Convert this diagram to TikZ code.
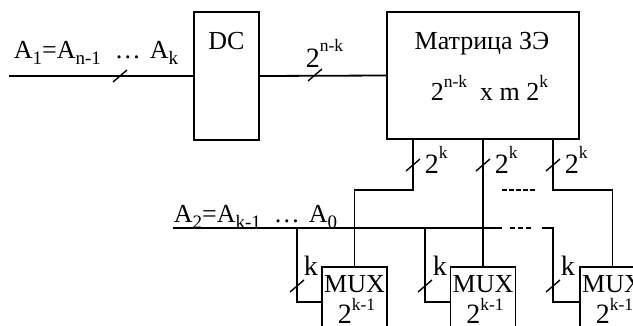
\documentclass[tikz,border=0pt]{standalone}
\usepackage{fontspec}
\setmainfont{Liberation Serif}
\usetikzlibrary{positioning}
\newcommand\hi[2][13pt]{\raisebox{#1}{\fontsize{17.5}{18}\selectfont #2}}
\newcommand\lo[1]{\raisebox{-6pt}{\fontsize{19}{19}\selectfont #1}}
\newcommand\bigtxt{\fontsize{28}{30}\selectfont}
\newcommand\busmark[1]{\draw[line width=1.4pt] ([shift={(-7,6)}]#1) -- ([shift={(7,-6)}]#1);}

\begin{document}
\begin{tikzpicture}[x=1pt,y=-1pt,line width=1.8pt,
  every node/.style={inner sep=0pt,font=\fontsize{26}{28}\selectfont},
  blk/.style={draw,line width=1.8pt,minimum width=65pt}]
\useasboundingbox (0,0) rectangle (633,325);

\node[blk,minimum height=128pt] (dc) at (226.5,76) {};
\node[blk,minimum width=192pt,minimum height=127pt] (mat) at (483,75.5) {};
\node[blk,minimum height=100pt,anchor=north] (mux1) at (354.5,266) {};
\node[blk,minimum height=100pt,anchor=north] (mux2) at (483,266) {};
\node[blk,minimum height=100pt,anchor=north] (mux3) at (612.5,266) {};

\node[anchor=base west] (a1txt) at (13,58) {A\lo{1}=A\lo{n-1}\hspace{14pt}…\hspace{9pt}A\lo{k}};
\node[below=20pt of dc.north] (dctxt) {DC};
\node[anchor=base west] (nktxt) at (305,67) {\bigtxt 2\hi[16pt]{n-k}};
\node[below=20pt of mat.north,xshift=-1pt] (mattxt) {Матрица ЗЭ};
\node[anchor=base west] (dimtxt) at (430,100) {2\hi{n-k}\hspace{13pt}x m 2\hi{k}};
\node[anchor=base west] (a2txt) at (173,222) {A\lo{2}=A\lo{k-1}\hspace{13pt}…\hspace{9pt}A\lo{0}};

\coordinate (a1) at (9,76);
\coordinate (o1) at (413,190);
\coordinate (o3) at (553,190);
\coordinate (a2) at (173,228);
\coordinate (a2e) at (502,228);
\coordinate (a2r) at (542,228);
\coordinate (b1) at (297,302);
\coordinate (b2) at (425,302);
\coordinate (b3) at (553,302);

\draw (a1) -- (dc.west);
\draw (dc.east) -- (mat.west);
\draw (mat.south -| o1) -- (o1) -| (mux1.north);
\draw (mat.south) -- (mux2.north);
\draw (mat.south -| o3) -- (o3) -| (mux3.north);
\draw[line width=1.4pt,dash pattern=on 4.5pt off 2.5pt] (502,190) -- (537,190);

\draw (a2) -- (a2e);
\draw[dash pattern=on 5pt off 3pt] (510,228) -- (531,228);
\draw (b1 |- a2) -- (b1) -- (b1 -| mux1.west);
\draw (b2 |- a2) -- (b2) -- (b2 -| mux2.west);
\draw (a2r) -| (b3) -- (b3 -| mux3.west);

\coordinate (s0) at (120,76);
\coordinate (s1) at (315,75);
\coordinate (s2) at (413,165);
\coordinate (s3) at (483,165);
\coordinate (s4) at (553,165);
\coordinate (s5) at (297,286);
\coordinate (s6) at (425,286);
\coordinate (s7) at (553,286);
\busmark{s0}
\busmark{s1}
\busmark{s2}
\busmark{s3}
\busmark{s4}
\busmark{s5}
\busmark{s6}
\busmark{s7}

\node[anchor=base west] (kt1) at (424,173) {\bigtxt 2\hi[15pt]{k}};
\node[anchor=base west] (kt2) at (494,173) {\bigtxt 2\hi[15pt]{k}};
\node[anchor=base west] (kt3) at (564,173) {\bigtxt 2\hi[15pt]{k}};

\node[anchor=base west] (k1) at (303,275) {\bigtxt k};
\node[anchor=base west] (k2) at (432,275) {\bigtxt k};
\node[anchor=base west] (k3) at (560,275) {\bigtxt k};

\node (mux1a) at ([yshift=-18pt]mux1.north) {MUX};
\node (mux2a) at ([yshift=-18pt]mux2.north) {MUX};
\node (mux3a) at ([yshift=-18pt]mux3.north) {MUX};
\node[anchor=base] (mux1b) at ([yshift=-57pt,xshift=2pt]mux1.north) {\bigtxt 2\hi[13pt]{k-1}};
\node[anchor=base] (mux2b) at ([yshift=-57pt,xshift=2pt]mux2.north) {\bigtxt 2\hi[13pt]{k-1}};
\node[anchor=base] (mux3b) at ([yshift=-57pt,xshift=2pt]mux3.north) {\bigtxt 2\hi[13pt]{k-1}};

\end{tikzpicture}
\end{document}
